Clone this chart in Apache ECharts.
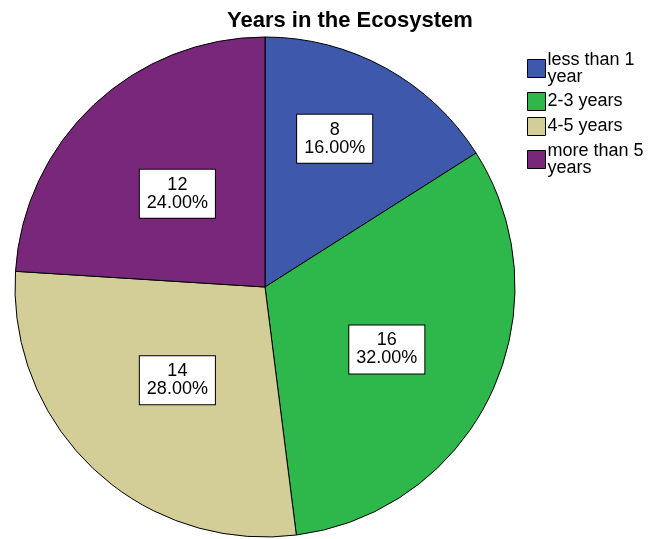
<!DOCTYPE html>
<html>
<head>
<meta charset="utf-8">
<script src="https://cdn.jsdelivr.net/npm/echarts@6/dist/echarts.min.js"></script>
<style>
  html, body { margin: 0; padding: 0; background: #fff; }
  #chart { width: 651px; height: 539px; }
</style>
</head>
<body>
<div id="chart"></div>
<script>
// Years spent in the ecosystem (respondent counts)
const categories = ['less than 1 year', '2-3 years', '4-5 years', 'more than 5 years'];
const counts = [8, 16, 14, 12];
const sliceColors = ['#3E58AC', '#2EB84B', '#D3CE97', '#79277B'];

const FONT = '"Liberation Sans", Arial, sans-serif';

const chart = echarts.init(document.getElementById('chart'), null, { renderer: 'canvas' });

const pieData = categories.map((name, i) => {
  const item = { name: name, value: counts[i], itemStyle: { color: sliceColors[i] } };
  // the narrow first slice carries its label further out toward the rim
  if (i === 0) item.label = { offset: [8, -36] };
  if (i === 1) item.label = { offset: [6, 8] };
  return item;
});

chart.setOption({
  backgroundColor: '#ffffff',
  animation: false,
  title: {
    text: 'Years in the Ecosystem',
    left: 222,
    top: 5,
    textStyle: { fontFamily: FONT, fontSize: 22, fontWeight: 'bold', color: '#000' }
  },
  legend: {
    orient: 'vertical',
    left: 522,
    top: 46,
    itemWidth: 18,
    itemHeight: 18,
    itemGap: 6,
    icon: 'rect',
    itemStyle: { borderColor: '#000', borderWidth: 1 },
    data: categories,
    textStyle: {
      fontFamily: FONT,
      fontSize: 18,
      color: '#000',
      lineHeight: 17,
      width: 104,
      overflow: 'break',
      padding: [0, 0, 0, -3]
    }
  },
  series: [{
    type: 'pie',
    center: [265, 287],
    radius: 250,
    startAngle: 90,
    clockwise: true,
    data: pieData,
    itemStyle: { borderColor: '#000', borderWidth: 1 },
    emphasis: { disabled: true },
    label: {
      show: true,
      position: 'inside',
      formatter: p => p.value + '\n' + p.percent.toFixed(2) + '%',
      fontFamily: FONT,
      fontSize: 18,
      lineHeight: 18,
      color: '#000',
      align: 'center',
      backgroundColor: '#fff',
      borderColor: '#000',
      borderWidth: 1,
      padding: [6, 7]
    },
    labelLine: { show: false }
  }]
});
</script>
</body>
</html>
